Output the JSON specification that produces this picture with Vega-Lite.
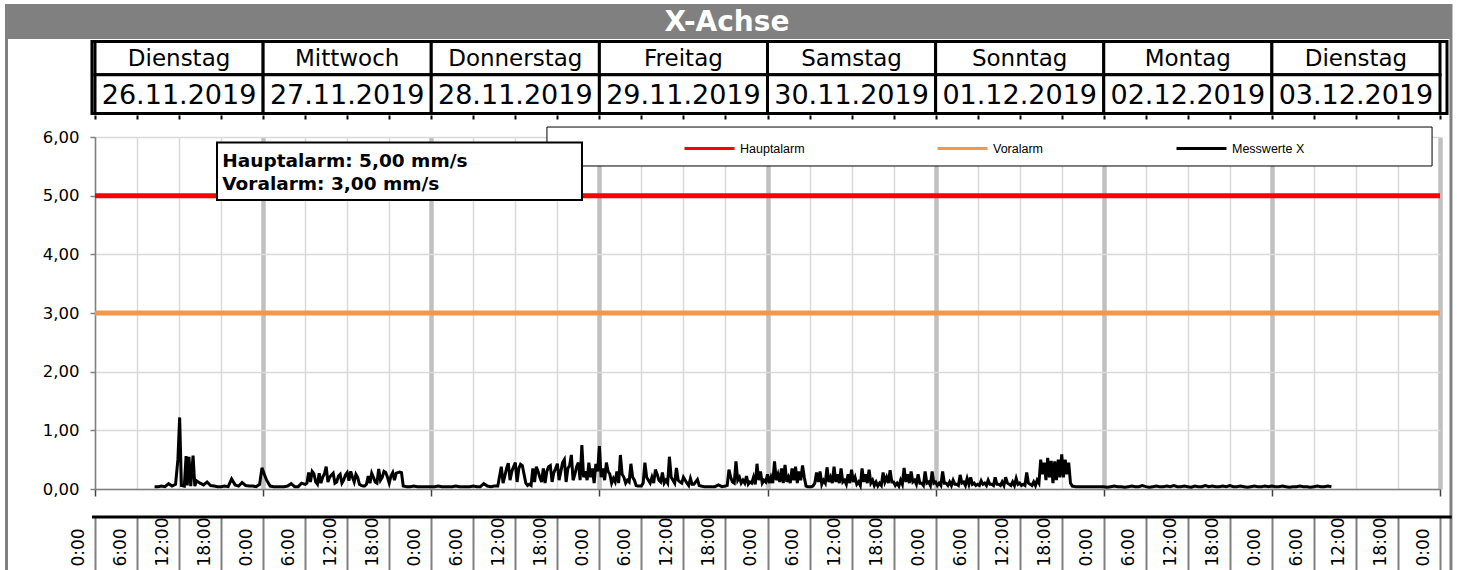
{
  "$schema": "https://vega.github.io/schema/vega-lite/v6.json",
  "width": 1345,
  "height": 352,
  "autosize": {"type": "none"},
  "padding": {"left": 95, "top": 137, "right": 17, "bottom": 81},
  "background": "#ffffff",
  "config": {"view": {"stroke": null}},
  "datasets": {
    "alarme": [
      {"serie": "Hauptalarm", "t": "2019-11-26T00:00:00Z", "v": 5},
      {"serie": "Hauptalarm", "t": "2019-12-04T00:00:00Z", "v": 5},
      {"serie": "Voralarm", "t": "2019-11-26T00:00:00Z", "v": 3},
      {"serie": "Voralarm", "t": "2019-12-04T00:00:00Z", "v": 3}
    ],
    "tage": [
      {"tag": "Dienstag", "dat": "26.11.2019", "von": "2019-11-26T00:00:00Z", "bis": "2019-11-27T00:00:00Z"},
      {"tag": "Mittwoch", "dat": "27.11.2019", "von": "2019-11-27T00:00:00Z", "bis": "2019-11-28T00:00:00Z"},
      {"tag": "Donnerstag", "dat": "28.11.2019", "von": "2019-11-28T00:00:00Z", "bis": "2019-11-29T00:00:00Z"},
      {"tag": "Freitag", "dat": "29.11.2019", "von": "2019-11-29T00:00:00Z", "bis": "2019-11-30T00:00:00Z"},
      {"tag": "Samstag", "dat": "30.11.2019", "von": "2019-11-30T00:00:00Z", "bis": "2019-12-01T00:00:00Z"},
      {"tag": "Sonntag", "dat": "01.12.2019", "von": "2019-12-01T00:00:00Z", "bis": "2019-12-02T00:00:00Z"},
      {"tag": "Montag", "dat": "02.12.2019", "von": "2019-12-02T00:00:00Z", "bis": "2019-12-03T00:00:00Z"},
      {"tag": "Dienstag", "dat": "03.12.2019", "von": "2019-12-03T00:00:00Z", "bis": "2019-12-04T00:00:00Z"}
    ],
    "messwerte": [
      {"t": "2019-11-26T08:30:00Z", "v": 0.04}, {"t": "2019-11-26T09:00:00Z", "v": 0.04}, {"t": "2019-11-26T09:30:00Z", "v": 0.05}, {"t": "2019-11-26T10:00:00Z", "v": 0.04},
      {"t": "2019-11-26T10:30:00Z", "v": 0.09}, {"t": "2019-11-26T11:00:00Z", "v": 0.05}, {"t": "2019-11-26T11:30:00Z", "v": 0.08}, {"t": "2019-11-26T11:50:00Z", "v": 0.5},
      {"t": "2019-11-26T12:05:00Z", "v": 1.22}, {"t": "2019-11-26T12:20:00Z", "v": 0.06}, {"t": "2019-11-26T12:45:00Z", "v": 0.05}, {"t": "2019-11-26T13:00:00Z", "v": 0.56},
      {"t": "2019-11-26T13:10:00Z", "v": 0.06}, {"t": "2019-11-26T13:25:00Z", "v": 0.55}, {"t": "2019-11-26T13:40:00Z", "v": 0.05}, {"t": "2019-11-26T14:00:00Z", "v": 0.57},
      {"t": "2019-11-26T14:15:00Z", "v": 0.05}, {"t": "2019-11-26T14:30:00Z", "v": 0.14}, {"t": "2019-11-26T15:00:00Z", "v": 0.1}, {"t": "2019-11-26T15:30:00Z", "v": 0.07},
      {"t": "2019-11-26T16:00:00Z", "v": 0.12}, {"t": "2019-11-26T16:30:00Z", "v": 0.06}, {"t": "2019-11-26T17:00:00Z", "v": 0.05}, {"t": "2019-11-26T17:30:00Z", "v": 0.04},
      {"t": "2019-11-26T18:00:00Z", "v": 0.04}, {"t": "2019-11-26T18:30:00Z", "v": 0.05}, {"t": "2019-11-26T19:00:00Z", "v": 0.04}, {"t": "2019-11-26T19:30:00Z", "v": 0.17},
      {"t": "2019-11-26T20:00:00Z", "v": 0.07}, {"t": "2019-11-26T20:30:00Z", "v": 0.05}, {"t": "2019-11-26T21:00:00Z", "v": 0.11}, {"t": "2019-11-26T21:30:00Z", "v": 0.06},
      {"t": "2019-11-26T22:00:00Z", "v": 0.05}, {"t": "2019-11-26T22:30:00Z", "v": 0.05}, {"t": "2019-11-26T23:00:00Z", "v": 0.04}, {"t": "2019-11-26T23:30:00Z", "v": 0.08},
      {"t": "2019-11-26T23:50:00Z", "v": 0.36},
      {"t": "2019-11-27T00:10:00Z", "v": 0.25}, {"t": "2019-11-27T00:30:00Z", "v": 0.15}, {"t": "2019-11-27T01:00:00Z", "v": 0.05}, {"t": "2019-11-27T01:30:00Z", "v": 0.04},
      {"t": "2019-11-27T02:00:00Z", "v": 0.04}, {"t": "2019-11-27T02:30:00Z", "v": 0.04}, {"t": "2019-11-27T03:00:00Z", "v": 0.04}, {"t": "2019-11-27T03:30:00Z", "v": 0.05},
      {"t": "2019-11-27T04:00:00Z", "v": 0.09}, {"t": "2019-11-27T04:30:00Z", "v": 0.04}, {"t": "2019-11-27T05:00:00Z", "v": 0.04}, {"t": "2019-11-27T05:30:00Z", "v": 0.1},
      {"t": "2019-11-27T06:00:00Z", "v": 0.08}, {"t": "2019-11-27T06:30:00Z", "v": 0.28}, {"t": "2019-11-27T07:00:00Z", "v": 0.3}, {"t": "2019-11-27T07:30:00Z", "v": 0.12},
      {"t": "2019-11-27T08:00:00Z", "v": 0.27}, {"t": "2019-11-27T08:30:00Z", "v": 0.2}, {"t": "2019-11-27T09:00:00Z", "v": 0.38}, {"t": "2019-11-27T09:30:00Z", "v": 0.2},
      {"t": "2019-11-27T10:00:00Z", "v": 0.27}, {"t": "2019-11-27T10:30:00Z", "v": 0.12}, {"t": "2019-11-27T11:00:00Z", "v": 0.25}, {"t": "2019-11-27T11:30:00Z", "v": 0.15},
      {"t": "2019-11-27T12:00:00Z", "v": 0.28}, {"t": "2019-11-27T12:30:00Z", "v": 0.3}, {"t": "2019-11-27T13:00:00Z", "v": 0.12}, {"t": "2019-11-27T13:30:00Z", "v": 0.2},
      {"t": "2019-11-27T14:00:00Z", "v": 0.06}, {"t": "2019-11-27T14:30:00Z", "v": 0.05}, {"t": "2019-11-27T15:00:00Z", "v": 0.22}, {"t": "2019-11-27T15:30:00Z", "v": 0.27},
      {"t": "2019-11-27T16:00:00Z", "v": 0.12}, {"t": "2019-11-27T16:30:00Z", "v": 0.34}, {"t": "2019-11-27T17:00:00Z", "v": 0.2}, {"t": "2019-11-27T17:30:00Z", "v": 0.28},
      {"t": "2019-11-27T18:00:00Z", "v": 0.1}, {"t": "2019-11-27T18:30:00Z", "v": 0.28}, {"t": "2019-11-27T19:00:00Z", "v": 0.27}, {"t": "2019-11-27T19:30:00Z", "v": 0.29},
      {"t": "2019-11-27T20:00:00Z", "v": 0.05}, {"t": "2019-11-27T20:30:00Z", "v": 0.04}, {"t": "2019-11-27T21:00:00Z", "v": 0.04}, {"t": "2019-11-27T21:30:00Z", "v": 0.05},
      {"t": "2019-11-27T22:00:00Z", "v": 0.04}, {"t": "2019-11-27T22:30:00Z", "v": 0.04}, {"t": "2019-11-27T23:00:00Z", "v": 0.04}, {"t": "2019-11-27T23:30:00Z", "v": 0.04},
      {"t": "2019-11-28T00:00:00Z", "v": 0.04}, {"t": "2019-11-28T00:30:00Z", "v": 0.04}, {"t": "2019-11-28T01:00:00Z", "v": 0.05}, {"t": "2019-11-28T01:30:00Z", "v": 0.04},
      {"t": "2019-11-28T02:00:00Z", "v": 0.04}, {"t": "2019-11-28T02:30:00Z", "v": 0.04}, {"t": "2019-11-28T03:00:00Z", "v": 0.04}, {"t": "2019-11-28T03:30:00Z", "v": 0.05},
      {"t": "2019-11-28T04:00:00Z", "v": 0.04}, {"t": "2019-11-28T04:30:00Z", "v": 0.04}, {"t": "2019-11-28T05:00:00Z", "v": 0.04}, {"t": "2019-11-28T05:30:00Z", "v": 0.04},
      {"t": "2019-11-28T06:00:00Z", "v": 0.05}, {"t": "2019-11-28T06:30:00Z", "v": 0.04}, {"t": "2019-11-28T07:00:00Z", "v": 0.04}, {"t": "2019-11-28T07:30:00Z", "v": 0.09},
      {"t": "2019-11-28T08:00:00Z", "v": 0.05}, {"t": "2019-11-28T08:30:00Z", "v": 0.04}, {"t": "2019-11-28T09:00:00Z", "v": 0.05}, {"t": "2019-11-28T09:30:00Z", "v": 0.05},
      {"t": "2019-11-28T10:00:00Z", "v": 0.38}, {"t": "2019-11-28T10:30:00Z", "v": 0.22}, {"t": "2019-11-28T11:00:00Z", "v": 0.44}, {"t": "2019-11-28T11:30:00Z", "v": 0.3},
      {"t": "2019-11-28T12:00:00Z", "v": 0.45}, {"t": "2019-11-28T12:30:00Z", "v": 0.35}, {"t": "2019-11-28T13:00:00Z", "v": 0.4}, {"t": "2019-11-28T13:30:00Z", "v": 0.1},
      {"t": "2019-11-28T14:00:00Z", "v": 0.08}, {"t": "2019-11-28T14:30:00Z", "v": 0.35}, {"t": "2019-11-28T15:00:00Z", "v": 0.38}, {"t": "2019-11-28T15:30:00Z", "v": 0.2},
      {"t": "2019-11-28T16:00:00Z", "v": 0.35}, {"t": "2019-11-28T16:30:00Z", "v": 0.3}, {"t": "2019-11-28T17:00:00Z", "v": 0.4}, {"t": "2019-11-28T17:30:00Z", "v": 0.28},
      {"t": "2019-11-28T18:00:00Z", "v": 0.43}, {"t": "2019-11-28T18:30:00Z", "v": 0.3}, {"t": "2019-11-28T19:00:00Z", "v": 0.5}, {"t": "2019-11-28T19:30:00Z", "v": 0.35},
      {"t": "2019-11-28T20:00:00Z", "v": 0.58}, {"t": "2019-11-28T20:30:00Z", "v": 0.25}, {"t": "2019-11-28T21:00:00Z", "v": 0.45}, {"t": "2019-11-28T21:30:00Z", "v": 0.75},
      {"t": "2019-11-28T22:00:00Z", "v": 0.3}, {"t": "2019-11-28T22:30:00Z", "v": 0.45}, {"t": "2019-11-28T23:00:00Z", "v": 0.35}, {"t": "2019-11-28T23:30:00Z", "v": 0.43},
      {"t": "2019-11-29T00:00:00Z", "v": 0.73}, {"t": "2019-11-29T00:30:00Z", "v": 0.35}, {"t": "2019-11-29T01:00:00Z", "v": 0.45}, {"t": "2019-11-29T01:30:00Z", "v": 0.25},
      {"t": "2019-11-29T02:00:00Z", "v": 0.18}, {"t": "2019-11-29T02:30:00Z", "v": 0.3}, {"t": "2019-11-29T03:00:00Z", "v": 0.58}, {"t": "2019-11-29T03:30:00Z", "v": 0.2},
      {"t": "2019-11-29T04:00:00Z", "v": 0.15}, {"t": "2019-11-29T04:30:00Z", "v": 0.43}, {"t": "2019-11-29T05:00:00Z", "v": 0.15}, {"t": "2019-11-29T05:30:00Z", "v": 0.05},
      {"t": "2019-11-29T06:00:00Z", "v": 0.05}, {"t": "2019-11-29T06:30:00Z", "v": 0.45}, {"t": "2019-11-29T07:00:00Z", "v": 0.15}, {"t": "2019-11-29T07:30:00Z", "v": 0.2},
      {"t": "2019-11-29T08:00:00Z", "v": 0.33}, {"t": "2019-11-29T08:30:00Z", "v": 0.15}, {"t": "2019-11-29T09:00:00Z", "v": 0.28}, {"t": "2019-11-29T09:30:00Z", "v": 0.15},
      {"t": "2019-11-29T10:00:00Z", "v": 0.55}, {"t": "2019-11-29T10:30:00Z", "v": 0.15}, {"t": "2019-11-29T11:00:00Z", "v": 0.36}, {"t": "2019-11-29T11:30:00Z", "v": 0.12},
      {"t": "2019-11-29T12:00:00Z", "v": 0.2}, {"t": "2019-11-29T12:30:00Z", "v": 0.1}, {"t": "2019-11-29T13:00:00Z", "v": 0.18}, {"t": "2019-11-29T13:30:00Z", "v": 0.08},
      {"t": "2019-11-29T14:00:00Z", "v": 0.16}, {"t": "2019-11-29T14:30:00Z", "v": 0.05}, {"t": "2019-11-29T15:00:00Z", "v": 0.04}, {"t": "2019-11-29T15:30:00Z", "v": 0.04},
      {"t": "2019-11-29T16:00:00Z", "v": 0.04}, {"t": "2019-11-29T16:30:00Z", "v": 0.04}, {"t": "2019-11-29T17:00:00Z", "v": 0.07}, {"t": "2019-11-29T17:30:00Z", "v": 0.04},
      {"t": "2019-11-29T18:00:00Z", "v": 0.05}, {"t": "2019-11-29T18:30:00Z", "v": 0.33}, {"t": "2019-11-29T19:00:00Z", "v": 0.12}, {"t": "2019-11-29T19:30:00Z", "v": 0.47},
      {"t": "2019-11-29T20:00:00Z", "v": 0.2}, {"t": "2019-11-29T20:30:00Z", "v": 0.15}, {"t": "2019-11-29T21:00:00Z", "v": 0.22}, {"t": "2019-11-29T21:30:00Z", "v": 0.12},
      {"t": "2019-11-29T22:00:00Z", "v": 0.2}, {"t": "2019-11-29T22:30:00Z", "v": 0.43}, {"t": "2019-11-29T23:00:00Z", "v": 0.3}, {"t": "2019-11-29T23:30:00Z", "v": 0.15},
      {"t": "2019-11-30T00:00:00Z", "v": 0.25}, {"t": "2019-11-30T00:30:00Z", "v": 0.2}, {"t": "2019-11-30T01:00:00Z", "v": 0.47}, {"t": "2019-11-30T01:30:00Z", "v": 0.25},
      {"t": "2019-11-30T02:00:00Z", "v": 0.35}, {"t": "2019-11-30T02:30:00Z", "v": 0.41}, {"t": "2019-11-30T03:00:00Z", "v": 0.2}, {"t": "2019-11-30T03:30:00Z", "v": 0.35},
      {"t": "2019-11-30T04:00:00Z", "v": 0.38}, {"t": "2019-11-30T04:30:00Z", "v": 0.3}, {"t": "2019-11-30T05:00:00Z", "v": 0.4}, {"t": "2019-11-30T05:30:00Z", "v": 0.05},
      {"t": "2019-11-30T06:00:00Z", "v": 0.04}, {"t": "2019-11-30T06:30:00Z", "v": 0.05}, {"t": "2019-11-30T07:00:00Z", "v": 0.28}, {"t": "2019-11-30T07:30:00Z", "v": 0.3},
      {"t": "2019-11-30T08:00:00Z", "v": 0.15}, {"t": "2019-11-30T08:30:00Z", "v": 0.37}, {"t": "2019-11-30T09:00:00Z", "v": 0.2}, {"t": "2019-11-30T09:30:00Z", "v": 0.38},
      {"t": "2019-11-30T10:00:00Z", "v": 0.25}, {"t": "2019-11-30T10:30:00Z", "v": 0.35}, {"t": "2019-11-30T11:00:00Z", "v": 0.15}, {"t": "2019-11-30T11:30:00Z", "v": 0.25},
      {"t": "2019-11-30T12:00:00Z", "v": 0.33}, {"t": "2019-11-30T12:30:00Z", "v": 0.2}, {"t": "2019-11-30T13:00:00Z", "v": 0.12}, {"t": "2019-11-30T13:30:00Z", "v": 0.35},
      {"t": "2019-11-30T14:00:00Z", "v": 0.25}, {"t": "2019-11-30T14:30:00Z", "v": 0.33}, {"t": "2019-11-30T15:00:00Z", "v": 0.15}, {"t": "2019-11-30T15:30:00Z", "v": 0.12},
      {"t": "2019-11-30T16:00:00Z", "v": 0.1}, {"t": "2019-11-30T16:30:00Z", "v": 0.28}, {"t": "2019-11-30T17:00:00Z", "v": 0.2}, {"t": "2019-11-30T17:30:00Z", "v": 0.32},
      {"t": "2019-11-30T18:00:00Z", "v": 0.12}, {"t": "2019-11-30T18:30:00Z", "v": 0.1}, {"t": "2019-11-30T19:00:00Z", "v": 0.15}, {"t": "2019-11-30T19:30:00Z", "v": 0.36},
      {"t": "2019-11-30T20:00:00Z", "v": 0.25}, {"t": "2019-11-30T20:30:00Z", "v": 0.3}, {"t": "2019-11-30T21:00:00Z", "v": 0.15}, {"t": "2019-11-30T21:30:00Z", "v": 0.25},
      {"t": "2019-11-30T22:00:00Z", "v": 0.1}, {"t": "2019-11-30T22:30:00Z", "v": 0.3}, {"t": "2019-11-30T23:00:00Z", "v": 0.12}, {"t": "2019-11-30T23:30:00Z", "v": 0.3},
      {"t": "2019-12-01T00:00:00Z", "v": 0.12}, {"t": "2019-12-01T00:30:00Z", "v": 0.1}, {"t": "2019-12-01T01:00:00Z", "v": 0.3}, {"t": "2019-12-01T01:30:00Z", "v": 0.1},
      {"t": "2019-12-01T02:00:00Z", "v": 0.12}, {"t": "2019-12-01T02:30:00Z", "v": 0.15}, {"t": "2019-12-01T03:00:00Z", "v": 0.08}, {"t": "2019-12-01T03:30:00Z", "v": 0.24},
      {"t": "2019-12-01T04:00:00Z", "v": 0.12}, {"t": "2019-12-01T04:30:00Z", "v": 0.18}, {"t": "2019-12-01T05:00:00Z", "v": 0.2}, {"t": "2019-12-01T05:30:00Z", "v": 0.1},
      {"t": "2019-12-01T06:00:00Z", "v": 0.08}, {"t": "2019-12-01T06:30:00Z", "v": 0.14}, {"t": "2019-12-01T07:00:00Z", "v": 0.1}, {"t": "2019-12-01T07:30:00Z", "v": 0.15},
      {"t": "2019-12-01T08:00:00Z", "v": 0.08}, {"t": "2019-12-01T08:30:00Z", "v": 0.2}, {"t": "2019-12-01T09:00:00Z", "v": 0.08}, {"t": "2019-12-01T09:30:00Z", "v": 0.12},
      {"t": "2019-12-01T10:00:00Z", "v": 0.2}, {"t": "2019-12-01T10:30:00Z", "v": 0.08}, {"t": "2019-12-01T11:00:00Z", "v": 0.12}, {"t": "2019-12-01T11:30:00Z", "v": 0.18},
      {"t": "2019-12-01T12:00:00Z", "v": 0.1}, {"t": "2019-12-01T12:30:00Z", "v": 0.08}, {"t": "2019-12-01T13:00:00Z", "v": 0.28}, {"t": "2019-12-01T13:30:00Z", "v": 0.08},
      {"t": "2019-12-01T14:00:00Z", "v": 0.12}, {"t": "2019-12-01T14:30:00Z", "v": 0.15}, {"t": "2019-12-01T14:45:00Z", "v": 0.1}, {"t": "2019-12-01T15:00:00Z", "v": 0.5},
      {"t": "2019-12-01T15:15:00Z", "v": 0.25}, {"t": "2019-12-01T15:30:00Z", "v": 0.45}, {"t": "2019-12-01T15:45:00Z", "v": 0.15}, {"t": "2019-12-01T16:00:00Z", "v": 0.53},
      {"t": "2019-12-01T16:15:00Z", "v": 0.2}, {"t": "2019-12-01T16:30:00Z", "v": 0.48}, {"t": "2019-12-01T16:45:00Z", "v": 0.1}, {"t": "2019-12-01T17:00:00Z", "v": 0.47},
      {"t": "2019-12-01T17:15:00Z", "v": 0.15}, {"t": "2019-12-01T17:30:00Z", "v": 0.5}, {"t": "2019-12-01T17:45:00Z", "v": 0.2}, {"t": "2019-12-01T18:00:00Z", "v": 0.59},
      {"t": "2019-12-01T18:15:00Z", "v": 0.2}, {"t": "2019-12-01T18:30:00Z", "v": 0.5}, {"t": "2019-12-01T18:45:00Z", "v": 0.25}, {"t": "2019-12-01T19:00:00Z", "v": 0.45},
      {"t": "2019-12-01T19:15:00Z", "v": 0.1}, {"t": "2019-12-01T19:30:00Z", "v": 0.05}, {"t": "2019-12-01T20:00:00Z", "v": 0.04}, {"t": "2019-12-01T20:30:00Z", "v": 0.04},
      {"t": "2019-12-01T21:00:00Z", "v": 0.04}, {"t": "2019-12-01T21:30:00Z", "v": 0.04}, {"t": "2019-12-01T22:00:00Z", "v": 0.04}, {"t": "2019-12-01T22:30:00Z", "v": 0.04},
      {"t": "2019-12-01T23:00:00Z", "v": 0.04}, {"t": "2019-12-01T23:30:00Z", "v": 0.04},
      {"t": "2019-12-02T00:00:00Z", "v": 0.04}, {"t": "2019-12-02T00:30:00Z", "v": 0.03}, {"t": "2019-12-02T01:00:00Z", "v": 0.04}, {"t": "2019-12-02T01:30:00Z", "v": 0.05},
      {"t": "2019-12-02T02:00:00Z", "v": 0.04}, {"t": "2019-12-02T02:30:00Z", "v": 0.04}, {"t": "2019-12-02T03:00:00Z", "v": 0.03}, {"t": "2019-12-02T03:30:00Z", "v": 0.04},
      {"t": "2019-12-02T04:00:00Z", "v": 0.05}, {"t": "2019-12-02T04:30:00Z", "v": 0.04}, {"t": "2019-12-02T05:00:00Z", "v": 0.04}, {"t": "2019-12-02T05:30:00Z", "v": 0.06},
      {"t": "2019-12-02T06:00:00Z", "v": 0.04}, {"t": "2019-12-02T06:30:00Z", "v": 0.03}, {"t": "2019-12-02T07:00:00Z", "v": 0.04}, {"t": "2019-12-02T07:30:00Z", "v": 0.05},
      {"t": "2019-12-02T08:00:00Z", "v": 0.04}, {"t": "2019-12-02T08:30:00Z", "v": 0.04}, {"t": "2019-12-02T09:00:00Z", "v": 0.05}, {"t": "2019-12-02T09:30:00Z", "v": 0.04},
      {"t": "2019-12-02T10:00:00Z", "v": 0.06}, {"t": "2019-12-02T10:30:00Z", "v": 0.04}, {"t": "2019-12-02T11:00:00Z", "v": 0.04}, {"t": "2019-12-02T11:30:00Z", "v": 0.05},
      {"t": "2019-12-02T12:00:00Z", "v": 0.04}, {"t": "2019-12-02T12:30:00Z", "v": 0.03}, {"t": "2019-12-02T13:00:00Z", "v": 0.05}, {"t": "2019-12-02T13:30:00Z", "v": 0.04},
      {"t": "2019-12-02T14:00:00Z", "v": 0.04}, {"t": "2019-12-02T14:30:00Z", "v": 0.06}, {"t": "2019-12-02T15:00:00Z", "v": 0.04}, {"t": "2019-12-02T15:30:00Z", "v": 0.05},
      {"t": "2019-12-02T16:00:00Z", "v": 0.04}, {"t": "2019-12-02T16:30:00Z", "v": 0.04}, {"t": "2019-12-02T17:00:00Z", "v": 0.05}, {"t": "2019-12-02T17:30:00Z", "v": 0.04},
      {"t": "2019-12-02T18:00:00Z", "v": 0.06}, {"t": "2019-12-02T18:30:00Z", "v": 0.04}, {"t": "2019-12-02T19:00:00Z", "v": 0.04}, {"t": "2019-12-02T19:30:00Z", "v": 0.05},
      {"t": "2019-12-02T20:00:00Z", "v": 0.04}, {"t": "2019-12-02T20:30:00Z", "v": 0.03}, {"t": "2019-12-02T21:00:00Z", "v": 0.04}, {"t": "2019-12-02T21:30:00Z", "v": 0.05},
      {"t": "2019-12-02T22:00:00Z", "v": 0.04}, {"t": "2019-12-02T22:30:00Z", "v": 0.04}, {"t": "2019-12-02T23:00:00Z", "v": 0.05}, {"t": "2019-12-02T23:30:00Z", "v": 0.04},
      {"t": "2019-12-03T00:00:00Z", "v": 0.05}, {"t": "2019-12-03T00:30:00Z", "v": 0.04}, {"t": "2019-12-03T01:00:00Z", "v": 0.04}, {"t": "2019-12-03T01:30:00Z", "v": 0.05},
      {"t": "2019-12-03T02:00:00Z", "v": 0.04}, {"t": "2019-12-03T02:30:00Z", "v": 0.03}, {"t": "2019-12-03T03:00:00Z", "v": 0.04}, {"t": "2019-12-03T03:30:00Z", "v": 0.04},
      {"t": "2019-12-03T04:00:00Z", "v": 0.05}, {"t": "2019-12-03T04:30:00Z", "v": 0.04}, {"t": "2019-12-03T05:00:00Z", "v": 0.04}, {"t": "2019-12-03T05:30:00Z", "v": 0.03},
      {"t": "2019-12-03T06:00:00Z", "v": 0.04}, {"t": "2019-12-03T06:30:00Z", "v": 0.05}, {"t": "2019-12-03T07:00:00Z", "v": 0.04}, {"t": "2019-12-03T07:30:00Z", "v": 0.04},
      {"t": "2019-12-03T08:00:00Z", "v": 0.05}, {"t": "2019-12-03T08:30:00Z", "v": 0.04},
      {"t": "2019-11-27T06:15:00Z", "v": 0.1}, {"t": "2019-11-27T06:45:00Z", "v": 0.12}, {"t": "2019-11-27T07:15:00Z", "v": 0.26}, {"t": "2019-11-27T07:45:00Z", "v": 0.08},
      {"t": "2019-11-27T08:15:00Z", "v": 0.1}, {"t": "2019-11-27T08:45:00Z", "v": 0.26}, {"t": "2019-11-27T09:15:00Z", "v": 0.12}, {"t": "2019-11-27T09:45:00Z", "v": 0.24},
      {"t": "2019-11-27T10:15:00Z", "v": 0.1}, {"t": "2019-11-27T10:45:00Z", "v": 0.22}, {"t": "2019-11-27T11:15:00Z", "v": 0.1}, {"t": "2019-11-27T11:45:00Z", "v": 0.24},
      {"t": "2019-11-27T12:15:00Z", "v": 0.14}, {"t": "2019-11-27T12:45:00Z", "v": 0.2}, {"t": "2019-11-27T13:15:00Z", "v": 0.25}, {"t": "2019-11-27T13:45:00Z", "v": 0.08},
      {"t": "2019-11-27T14:15:00Z", "v": 0.05}, {"t": "2019-11-27T14:45:00Z", "v": 0.08}, {"t": "2019-11-27T15:15:00Z", "v": 0.1}, {"t": "2019-11-27T15:45:00Z", "v": 0.2},
      {"t": "2019-11-27T16:15:00Z", "v": 0.1}, {"t": "2019-11-27T16:45:00Z", "v": 0.15}, {"t": "2019-11-27T17:15:00Z", "v": 0.3}, {"t": "2019-11-27T17:45:00Z", "v": 0.2},
      {"t": "2019-11-27T18:15:00Z", "v": 0.22}, {"t": "2019-11-27T18:45:00Z", "v": 0.15}, {"t": "2019-11-27T19:15:00Z", "v": 0.28}, {"t": "2019-11-27T19:45:00Z", "v": 0.28},
      {"t": "2019-11-28T10:15:00Z", "v": 0.1}, {"t": "2019-11-28T10:45:00Z", "v": 0.35}, {"t": "2019-11-28T11:15:00Z", "v": 0.15}, {"t": "2019-11-28T11:45:00Z", "v": 0.38},
      {"t": "2019-11-28T12:15:00Z", "v": 0.12}, {"t": "2019-11-28T12:45:00Z", "v": 0.42}, {"t": "2019-11-28T13:15:00Z", "v": 0.25}, {"t": "2019-11-28T13:45:00Z", "v": 0.06},
      {"t": "2019-11-28T14:15:00Z", "v": 0.06}, {"t": "2019-11-28T14:45:00Z", "v": 0.12}, {"t": "2019-11-28T15:15:00Z", "v": 0.3}, {"t": "2019-11-28T15:45:00Z", "v": 0.12},
      {"t": "2019-11-28T16:15:00Z", "v": 0.1}, {"t": "2019-11-28T16:45:00Z", "v": 0.38}, {"t": "2019-11-28T17:15:00Z", "v": 0.12}, {"t": "2019-11-28T17:45:00Z", "v": 0.35},
      {"t": "2019-11-28T18:15:00Z", "v": 0.15}, {"t": "2019-11-28T18:45:00Z", "v": 0.45}, {"t": "2019-11-28T19:15:00Z", "v": 0.12}, {"t": "2019-11-28T19:45:00Z", "v": 0.4},
      {"t": "2019-11-28T20:15:00Z", "v": 0.15}, {"t": "2019-11-28T20:45:00Z", "v": 0.38}, {"t": "2019-11-28T21:15:00Z", "v": 0.15}, {"t": "2019-11-28T21:45:00Z", "v": 0.2},
      {"t": "2019-11-28T22:15:00Z", "v": 0.15}, {"t": "2019-11-28T22:45:00Z", "v": 0.2}, {"t": "2019-11-28T23:15:00Z", "v": 0.1}, {"t": "2019-11-28T23:45:00Z", "v": 0.3},
      {"t": "2019-11-29T00:15:00Z", "v": 0.2}, {"t": "2019-11-29T00:45:00Z", "v": 0.15}, {"t": "2019-11-29T01:15:00Z", "v": 0.3}, {"t": "2019-11-29T01:45:00Z", "v": 0.1},
      {"t": "2019-11-29T02:15:00Z", "v": 0.12}, {"t": "2019-11-29T02:45:00Z", "v": 0.1}, {"t": "2019-11-29T03:15:00Z", "v": 0.25}, {"t": "2019-11-29T03:45:00Z", "v": 0.1},
      {"t": "2019-11-29T04:15:00Z", "v": 0.12}, {"t": "2019-11-29T04:45:00Z", "v": 0.2}, {"t": "2019-11-29T05:15:00Z", "v": 0.06}, {"t": "2019-11-29T05:45:00Z", "v": 0.05},
      {"t": "2019-11-29T06:15:00Z", "v": 0.1}, {"t": "2019-11-29T06:45:00Z", "v": 0.2}, {"t": "2019-11-29T07:15:00Z", "v": 0.1}, {"t": "2019-11-29T07:45:00Z", "v": 0.1},
      {"t": "2019-11-29T08:15:00Z", "v": 0.25}, {"t": "2019-11-29T08:45:00Z", "v": 0.12}, {"t": "2019-11-29T09:15:00Z", "v": 0.1}, {"t": "2019-11-29T09:45:00Z", "v": 0.1},
      {"t": "2019-11-29T10:15:00Z", "v": 0.2}, {"t": "2019-11-29T10:45:00Z", "v": 0.1}, {"t": "2019-11-29T11:15:00Z", "v": 0.15}, {"t": "2019-11-29T11:45:00Z", "v": 0.1},
      {"t": "2019-11-29T12:15:00Z", "v": 0.15}, {"t": "2019-11-29T12:45:00Z", "v": 0.06}, {"t": "2019-11-29T13:15:00Z", "v": 0.08}, {"t": "2019-11-29T13:45:00Z", "v": 0.12},
      {"t": "2019-11-29T14:15:00Z", "v": 0.06},
      {"t": "2019-11-29T18:15:00Z", "v": 0.06}, {"t": "2019-11-29T18:45:00Z", "v": 0.2}, {"t": "2019-11-29T19:15:00Z", "v": 0.1}, {"t": "2019-11-29T19:45:00Z", "v": 0.15},
      {"t": "2019-11-29T20:15:00Z", "v": 0.1}, {"t": "2019-11-29T20:45:00Z", "v": 0.1}, {"t": "2019-11-29T21:15:00Z", "v": 0.08}, {"t": "2019-11-29T21:45:00Z", "v": 0.1},
      {"t": "2019-11-29T22:15:00Z", "v": 0.08}, {"t": "2019-11-29T22:45:00Z", "v": 0.15}, {"t": "2019-11-29T23:15:00Z", "v": 0.1}, {"t": "2019-11-29T23:45:00Z", "v": 0.12},
      {"t": "2019-11-30T00:15:00Z", "v": 0.1}, {"t": "2019-11-30T00:45:00Z", "v": 0.1}, {"t": "2019-11-30T01:15:00Z", "v": 0.15}, {"t": "2019-11-30T01:45:00Z", "v": 0.12},
      {"t": "2019-11-30T02:15:00Z", "v": 0.1}, {"t": "2019-11-30T02:45:00Z", "v": 0.12}, {"t": "2019-11-30T03:15:00Z", "v": 0.1}, {"t": "2019-11-30T03:45:00Z", "v": 0.15},
      {"t": "2019-11-30T04:15:00Z", "v": 0.1}, {"t": "2019-11-30T04:45:00Z", "v": 0.15}, {"t": "2019-11-30T05:15:00Z", "v": 0.2}, {"t": "2019-11-30T05:45:00Z", "v": 0.04},
      {"t": "2019-11-30T06:15:00Z", "v": 0.04}, {"t": "2019-11-30T06:45:00Z", "v": 0.1}, {"t": "2019-11-30T07:15:00Z", "v": 0.12}, {"t": "2019-11-30T07:45:00Z", "v": 0.08},
      {"t": "2019-11-30T08:15:00Z", "v": 0.1}, {"t": "2019-11-30T08:45:00Z", "v": 0.12}, {"t": "2019-11-30T09:15:00Z", "v": 0.1}, {"t": "2019-11-30T09:45:00Z", "v": 0.12},
      {"t": "2019-11-30T10:15:00Z", "v": 0.1}, {"t": "2019-11-30T10:45:00Z", "v": 0.12}, {"t": "2019-11-30T11:15:00Z", "v": 0.08}, {"t": "2019-11-30T11:45:00Z", "v": 0.1},
      {"t": "2019-11-30T12:15:00Z", "v": 0.12}, {"t": "2019-11-30T12:45:00Z", "v": 0.08}, {"t": "2019-11-30T13:15:00Z", "v": 0.06}, {"t": "2019-11-30T13:45:00Z", "v": 0.12},
      {"t": "2019-11-30T14:15:00Z", "v": 0.1}, {"t": "2019-11-30T14:45:00Z", "v": 0.1}, {"t": "2019-11-30T15:15:00Z", "v": 0.06}, {"t": "2019-11-30T15:45:00Z", "v": 0.05},
      {"t": "2019-11-30T16:15:00Z", "v": 0.06}, {"t": "2019-11-30T16:45:00Z", "v": 0.12}, {"t": "2019-11-30T17:15:00Z", "v": 0.1}, {"t": "2019-11-30T17:45:00Z", "v": 0.12},
      {"t": "2019-11-30T18:15:00Z", "v": 0.06}, {"t": "2019-11-30T18:45:00Z", "v": 0.05}, {"t": "2019-11-30T19:15:00Z", "v": 0.08}, {"t": "2019-11-30T19:45:00Z", "v": 0.12},
      {"t": "2019-11-30T20:15:00Z", "v": 0.1}, {"t": "2019-11-30T20:45:00Z", "v": 0.12}, {"t": "2019-11-30T21:15:00Z", "v": 0.08}, {"t": "2019-11-30T21:45:00Z", "v": 0.1},
      {"t": "2019-11-30T22:15:00Z", "v": 0.06}, {"t": "2019-11-30T22:45:00Z", "v": 0.1}, {"t": "2019-11-30T23:15:00Z", "v": 0.06}, {"t": "2019-11-30T23:45:00Z", "v": 0.1},
      {"t": "2019-12-01T00:15:00Z", "v": 0.06}, {"t": "2019-12-01T00:45:00Z", "v": 0.06}, {"t": "2019-12-01T01:15:00Z", "v": 0.1}, {"t": "2019-12-01T01:45:00Z", "v": 0.06},
      {"t": "2019-12-01T02:15:00Z", "v": 0.06}, {"t": "2019-12-01T02:45:00Z", "v": 0.08}, {"t": "2019-12-01T03:15:00Z", "v": 0.06}, {"t": "2019-12-01T03:45:00Z", "v": 0.1},
      {"t": "2019-12-01T04:15:00Z", "v": 0.06}, {"t": "2019-12-01T04:45:00Z", "v": 0.08}, {"t": "2019-12-01T05:15:00Z", "v": 0.08}, {"t": "2019-12-01T05:45:00Z", "v": 0.06},
      {"t": "2019-12-01T06:15:00Z", "v": 0.06}, {"t": "2019-12-01T06:45:00Z", "v": 0.08}, {"t": "2019-12-01T07:15:00Z", "v": 0.06}, {"t": "2019-12-01T07:45:00Z", "v": 0.08},
      {"t": "2019-12-01T08:15:00Z", "v": 0.06}, {"t": "2019-12-01T08:45:00Z", "v": 0.08}, {"t": "2019-12-01T09:15:00Z", "v": 0.06}, {"t": "2019-12-01T09:45:00Z", "v": 0.06},
      {"t": "2019-12-01T10:15:00Z", "v": 0.1}, {"t": "2019-12-01T10:45:00Z", "v": 0.06}, {"t": "2019-12-01T11:15:00Z", "v": 0.06}, {"t": "2019-12-01T11:45:00Z", "v": 0.08},
      {"t": "2019-12-01T12:15:00Z", "v": 0.06}, {"t": "2019-12-01T12:45:00Z", "v": 0.06}, {"t": "2019-12-01T13:15:00Z", "v": 0.1}, {"t": "2019-12-01T13:45:00Z", "v": 0.06},
      {"t": "2019-12-01T14:15:00Z", "v": 0.06}
    ]
  },
  "layer": [
    {
      "data": {"name": "alarme"},
      "mark": {"type": "line", "strokeWidth": 5, "strokeCap": "butt"},
      "encoding": {
        "x": {
          "field": "t", "type": "temporal", "title": null,
          "scale": {"type": "utc", "nice": false, "domain": [1574726400000, 1575417600000]},
          "axis": {"orient": "bottom", "grid": true, "gridColor": "#d9d9d9", "gridWidth": 1.5, "domain": false, "ticks": false, "labels": false, "title": null,
            "values": [1574726400000, 1574748000000, 1574769600000, 1574791200000, 1574812800000, 1574834400000, 1574856000000, 1574877600000, 1574899200000, 1574920800000, 1574942400000, 1574964000000, 1574985600000, 1575007200000, 1575028800000, 1575050400000, 1575072000000, 1575093600000, 1575115200000, 1575136800000, 1575158400000, 1575180000000, 1575201600000, 1575223200000, 1575244800000, 1575266400000, 1575288000000, 1575309600000, 1575331200000, 1575352800000, 1575374400000, 1575396000000, 1575417600000]}
        },
        "y": {
          "field": "v", "type": "quantitative", "title": null,
          "scale": {"domain": [0, 6], "nice": false, "zero": false},
          "axis": {
            "orient": "left", "values": [0, 1, 2, 3, 4, 5, 6], "title": null,
            "grid": true, "gridColor": "#d9d9d9", "gridWidth": 1.5,
            "domainColor": "#808080", "domainWidth": 1.5,
            "tickColor": "#808080", "tickSize": 5, "tickWidth": 1.5,
            "labelExpr": "replace(format(datum.value, '.2f'), '.', ',')",
            "labelFont": "DejaVu Sans", "labelFontSize": 16.5, "labelColor": "#000000", "labelPadding": 11
          }
        },
        "color": {
          "field": "serie", "type": "nominal",
          "scale": {"domain": ["Hauptalarm", "Voralarm", "Messwerte X"], "range": ["#ff0000", "#f79646", "#000000"]},
          "legend": {
            "orient": "none", "legendX": 588, "legendY": -15, "direction": "horizontal", "title": null,
            "symbolType": "stroke", "symbolSize": 2500, "symbolStrokeWidth": 3,
            "labelFont": "Liberation Sans", "labelFontSize": 12.5, "labelColor": "#000000", "labelOffset": 4,
            "columnPadding": 126, "padding": 0
          }
        }
      }
    },
    {
      "data": {"name": "messwerte"},
      "mark": {"type": "line", "strokeWidth": 3, "strokeJoin": "miter"},
      "encoding": {
        "x": {
          "field": "t", "type": "temporal", "title": null,
          "scale": {"type": "utc", "nice": false, "domain": [1574726400000, 1575417600000]},
          "axis": {
            "orient": "bottom", "title": null, "labels": false,
            "values": [1574812800000, 1574899200000, 1574985600000, 1575072000000, 1575158400000, 1575244800000, 1575331200000, 1575417600000],
            "grid": true, "gridWidth": 4.5, "gridColor": "#c0c0c0",
            "domain": false, "ticks": false
          }
        },
        "y": {"field": "v", "type": "quantitative", "title": null, "scale": {"domain": [0, 6], "nice": false, "zero": false}, "axis": null},
        "color": {"datum": "Messwerte X", "type": "nominal"}
      }
    },
    {
      "data": {"name": "tage"},
      "mark": {"type": "rect", "fill": "#ffffff", "stroke": "#000000", "strokeWidth": 3},
      "encoding": {
        "x": {
          "field": "von", "type": "temporal", "title": null,
          "scale": {"type": "utc", "nice": false, "domain": [1574726400000, 1575417600000]},
          "axis": {
            "orient": "bottom", "title": null, "labels": false,
            "values": [1574726400000, 1574812800000, 1574899200000, 1574985600000, 1575072000000, 1575158400000, 1575244800000, 1575331200000, 1575417600000],
            "grid": false, "domain": true, "domainColor": "#808080", "domainWidth": 1.5,
            "ticks": true, "tickColor": "#404040", "tickSize": 7, "tickWidth": 1.5
          }
        },
        "x2": {"field": "bis"},
        "y": {"datum": 7.628, "type": "quantitative", "axis": null},
        "y2": {"datum": 7.06}
      }
    },
    {
      "data": {"name": "tage"},
      "mark": {"type": "rect", "fill": "#ffffff", "stroke": "#000000", "strokeWidth": 3},
      "encoding": {
        "x": {
          "field": "von", "type": "temporal", "title": null,
          "scale": {"type": "utc", "nice": false, "domain": [1574726400000, 1575417600000]},
          "axis": {
            "orient": "top", "offset": 18, "title": null, "labels": false, "grid": false, "domain": false,
            "values": [1574726400000, 1574748000000, 1574769600000, 1574791200000, 1574812800000, 1574834400000, 1574856000000, 1574877600000, 1574899200000, 1574920800000, 1574942400000, 1574964000000, 1574985600000, 1575007200000, 1575028800000, 1575050400000, 1575072000000, 1575093600000, 1575115200000, 1575136800000, 1575158400000, 1575180000000, 1575201600000, 1575223200000, 1575244800000, 1575266400000, 1575288000000, 1575309600000, 1575331200000, 1575352800000, 1575374400000, 1575396000000, 1575417600000],
            "ticks": true, "tickColor": "#000000", "tickSize": 4, "tickWidth": 2
          }
        },
        "x2": {"field": "bis"},
        "y": {"datum": 7.06, "type": "quantitative", "axis": null},
        "y2": {"datum": 6.4}
      }
    },
    {
      "data": {"name": "alarme"},
      "mark": {"type": "rule", "strokeWidth": 0},
      "encoding": {
        "x": {
          "field": "t", "type": "temporal", "title": null,
          "scale": {"type": "utc", "nice": false, "domain": [1574726400000, 1575417600000]},
          "axis": {
            "orient": "bottom", "offset": 28, "title": null, "format": "%-H:%M",
            "values": [1574726400000, 1574748000000, 1574769600000, 1574791200000, 1574812800000, 1574834400000, 1574856000000, 1574877600000, 1574899200000, 1574920800000, 1574942400000, 1574964000000, 1574985600000, 1575007200000, 1575028800000, 1575050400000, 1575072000000, 1575093600000, 1575115200000, 1575136800000, 1575158400000, 1575180000000, 1575201600000, 1575223200000, 1575244800000, 1575266400000, 1575288000000, 1575309600000, 1575331200000, 1575352800000, 1575374400000, 1575396000000, 1575417600000],
            "grid": false, "domain": false,
            "ticks": true, "tickColor": "#000000", "tickSize": 53, "tickWidth": 2, "tickDash": [1, 1],
            "labelAngle": 270, "labelAlign": "left", "labelBaseline": "middle", "labelPadding": -4, "labelOffset": -17,
            "labelFont": "DejaVu Sans", "labelFontSize": 17, "labelColor": "#000000",
            "labelOverlap": false, "labelFlush": false, "labelBound": false
          }
        },
        "y": {"field": "v", "type": "quantitative", "axis": null}
      }
    },
    {
      "data": {"values": [{}]},
      "mark": {"type": "rect", "fill": "#ffffff", "stroke": "#000000", "strokeWidth": 1},
      "encoding": {
        "x": {"datum": {"year": 2019, "month": 11, "date": 28, "hours": 16, "minutes": 31, "utc": true}, "type": "temporal", "axis": null},
        "x2": {"datum": {"year": 2019, "month": 12, "date": 3, "hours": 22, "minutes": 52, "utc": true}},
        "y": {"datum": 6.17, "type": "quantitative", "axis": null},
        "y2": {"datum": 5.506}
      }
    },
    {
      "data": {"values": [{}]},
      "mark": {"type": "rect", "fill": "#ffffff", "stroke": "#000000", "strokeWidth": 2},
      "encoding": {
        "x": {"datum": {"year": 2019, "month": 11, "date": 26, "hours": 17, "minutes": 25, "utc": true}, "type": "temporal", "axis": null},
        "x2": {"datum": {"year": 2019, "month": 11, "date": 28, "hours": 21, "minutes": 31, "utc": true}},
        "y": {"datum": 5.906, "type": "quantitative", "axis": null},
        "y2": {"datum": 4.926}
      }
    },
    {
      "data": {"values": [{}]},
      "mark": {"type": "text", "align": "left", "baseline": "alphabetic", "font": "DejaVu Sans", "fontWeight": "bold", "fontSize": 18.5, "color": "#000000"},
      "encoding": {
        "x": {"datum": {"year": 2019, "month": 11, "date": 26, "hours": 18, "minutes": 10, "utc": true}, "type": "temporal", "axis": null},
        "y": {"datum": 5.497, "type": "quantitative", "axis": null},
        "text": {"value": "Hauptalarm: 5,00 mm/s"}
      }
    },
    {
      "data": {"values": [{}]},
      "mark": {"type": "text", "align": "left", "baseline": "alphabetic", "font": "DejaVu Sans", "fontWeight": "bold", "fontSize": 18.5, "color": "#000000"},
      "encoding": {
        "x": {"datum": {"year": 2019, "month": 11, "date": 26, "hours": 18, "minutes": 10, "utc": true}, "type": "temporal", "axis": null},
        "y": {"datum": 5.097, "type": "quantitative", "axis": null},
        "text": {"value": "Voralarm: 3,00 mm/s"}
      }
    },
    {
      "data": {"values": [{}]},
      "mark": {"type": "rect", "fill": "#808080"},
      "encoding": {
        "x": {"datum": {"year": 2019, "month": 11, "date": 25, "hours": 11, "minutes": 9, "utc": true}, "type": "temporal", "axis": null},
        "x2": {"datum": {"year": 2019, "month": 12, "date": 4, "hours": 1, "minutes": 26, "utc": true}},
        "y": {"datum": 8.267, "type": "quantitative", "axis": null},
        "y2": {"datum": 7.67}
      }
    },
    {
      "data": {"values": [{}]},
      "mark": {"type": "text", "align": "center", "baseline": "alphabetic", "font": "DejaVu Sans", "fontWeight": "bold", "fontSize": 28, "color": "#ffffff"},
      "encoding": {
        "x": {"datum": {"year": 2019, "month": 11, "date": 29, "hours": 18, "minutes": 13, "utc": true}, "type": "temporal", "axis": null},
        "y": {"datum": 7.807, "type": "quantitative", "axis": null},
        "text": {"value": "X-Achse"}
      }
    },
    {
      "data": {"values": [{}]},
      "mark": {"type": "rule", "stroke": "#808080", "strokeWidth": 3},
      "encoding": {
        "x": {"datum": {"year": 2019, "month": 11, "date": 25, "hours": 11, "minutes": 22, "utc": true}, "type": "temporal", "axis": null},
        "y": {"datum": 8.267, "type": "quantitative", "axis": null},
        "y2": {"datum": -1.5}
      }
    },
    {
      "data": {"values": [{}]},
      "mark": {"type": "rule", "stroke": "#808080", "strokeWidth": 3},
      "encoding": {
        "x": {"datum": {"year": 2019, "month": 12, "date": 4, "hours": 1, "minutes": 34, "utc": true}, "type": "temporal", "axis": null},
        "y": {"datum": 8.267, "type": "quantitative", "axis": null},
        "y2": {"datum": -1.5}
      }
    },
    {
      "data": {"values": [{}]},
      "mark": {"type": "rect", "fillOpacity": 0, "stroke": "#000000", "strokeWidth": 3},
      "encoding": {
        "x": {"datum": {"year": 2019, "month": 11, "date": 25, "hours": 23, "minutes": 34, "utc": true}, "type": "temporal", "axis": null},
        "x2": {"datum": {"year": 2019, "month": 12, "date": 4, "hours": 1, "minutes": 0, "utc": true}},
        "y": {"datum": 7.628, "type": "quantitative", "axis": null},
        "y2": {"datum": 6.4}
      }
    },
    {
      "data": {"name": "tage"},
      "mark": {"type": "text", "align": "center", "baseline": "alphabetic", "font": "DejaVu Sans", "fontSize": 23, "color": "#000000"},
      "encoding": {
        "x": {"field": "von", "type": "temporal", "timeUnit": "utcyearmonthdate", "bandPosition": 0.5, "axis": null},
        "y": {"datum": 7.202, "type": "quantitative", "axis": null},
        "text": {"field": "tag"}
      }
    },
    {
      "data": {"name": "tage"},
      "mark": {"type": "text", "align": "center", "baseline": "alphabetic", "font": "DejaVu Sans", "fontSize": 27, "color": "#000000"},
      "encoding": {
        "x": {"field": "von", "type": "temporal", "timeUnit": "utcyearmonthdate", "bandPosition": 0.5, "axis": null},
        "y": {"datum": 6.562, "type": "quantitative", "axis": null},
        "text": {"field": "dat"}
      }
    },
    {
      "data": {"values": [{}]},
      "mark": {"type": "rule", "stroke": "#000000", "strokeWidth": 3},
      "encoding": {
        "x": {"datum": {"year": 2019, "month": 11, "date": 25, "hours": 23, "minutes": 34, "utc": true}, "type": "temporal", "axis": null},
        "x2": {"datum": {"year": 2019, "month": 12, "date": 4, "hours": 1, "minutes": 40, "utc": true}},
        "y": {"datum": -0.477, "type": "quantitative", "axis": null}
      }
    }
  ],
  "resolve": {"axis": {"x": "independent", "y": "independent"}}
}
